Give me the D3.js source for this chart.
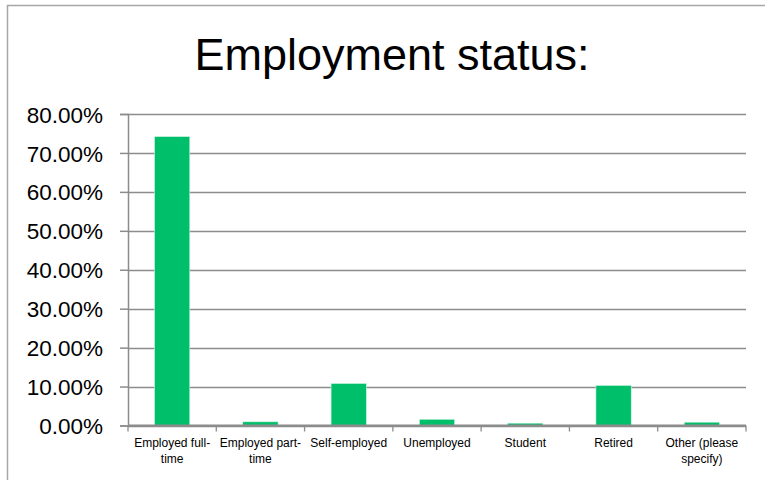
<!DOCTYPE html>
<html>
<head>
  <script src="https://d3js.org/d3.v7.min.js"></script>
</head>
<style>
body { margin: 0; background: #fff; }
text { font-family: "Liberation Sans", Arial, sans-serif; fill: #000; }
</style>
<body>
  <svg id="svg_chart"></svg>
</body>
<script>
  // data
  var categories = ["Employed full-time", "Employed part-time", "Self-employed",
                    "Unemployed", "Student", "Retired", "Other (please specify)"];
  var shares = [0.742, 0.0095, 0.108, 0.016, 0.006, 0.103, 0.0085];
  var yTicks = [0, 0.1, 0.2, 0.3, 0.4, 0.5, 0.6, 0.7, 0.8];
  var title = "Employment status:";

  var w = 765;
  var h = 480;
  var margin = {top: 114, right: 19, bottom: 54, left: 128};

  var svg = d3.select("svg#svg_chart")
    .attr("width", w)
    .attr("height", h);

  // outer chart frame (only top and left edges visible)
  svg.append("path")
    .attr("d", "M7.5," + h + "V5.5H" + w)
    .attr("fill", "none")
    .attr("stroke", "#a6a6a6")
    .attr("stroke-width", 1.5);

  svg.append("text")
    .attr("x", 392)
    .attr("y", 70)
    .attr("text-anchor", "middle")
    .style("font-size", "45px")
    .text(title);

  var x = d3.scaleBand()
    .domain(categories)
    .range([margin.left, w - margin.right])
    .paddingInner(0.6)
    .paddingOuter(0.3);

  var y = d3.scaleLinear()
    .domain([0, 0.8])
    .range([h - margin.bottom - 0.5, margin.top]);

  var g = svg.append("g");

  // gridlines
  g.selectAll("line.grid")
    .data(yTicks)
    .enter().append("line")
    .attr("class", "grid")
    .attr("x1", margin.left)
    .attr("x2", w - margin.right)
    .attr("y1", function(d) { return Math.round(y(d)) + 0.5; })
    .attr("y2", function(d) { return Math.round(y(d)) + 0.5; })
    .attr("stroke", "#8c8c8c")
    .attr("stroke-width", 1.3);

  // bars
  g.selectAll("rect.bar")
    .data(shares)
    .enter().append("rect")
    .attr("class", "bar")
    .attr("x", function(d, i) { return x(categories[i]); })
    .attr("width", x.bandwidth())
    .attr("y", function(d) { return y(d); })
    .attr("height", function(d) { return y(0) - y(d); })
    .attr("fill", "#00bf6b")
    .attr("stroke", "#d8f5e6")
    .attr("stroke-width", 0.6);

  // y axis
  var yAxis = d3.axisLeft(y)
    .tickValues(yTicks)
    .tickFormat(d3.format(".2%"))
    .tickSize(8)
    .tickPadding(17);

  var ya = svg.append("g")
    .attr("transform", "translate(" + margin.left + ",0)")
    .call(yAxis);
  ya.selectAll("path, line").attr("stroke", "#8c8c8c").attr("stroke-width", 1.5);
  ya.selectAll("text").style("font-size", "22.5px").attr("dy", "0.36em");

  // x axis with tick marks on band edges
  var edges = categories.map(function(c) { return x(c) - x.step() * x.paddingInner() / 2; });
  edges.push(w - margin.right);

  var xa = svg.append("g");
  xa.append("line")
    .attr("x1", margin.left).attr("x2", w - margin.right)
    .attr("y1", y(0)).attr("y2", y(0))
    .attr("stroke", "#8c8c8c").attr("stroke-width", 1.8);
  xa.selectAll("line.tick")
    .data(edges)
    .enter().append("line")
    .attr("class", "tick")
    .attr("x1", function(d) { return d; }).attr("x2", function(d) { return d; })
    .attr("y1", y(0)).attr("y2", y(0) + 6)
    .attr("stroke", "#8c8c8c").attr("stroke-width", 1.3);

  var labels = xa.selectAll("text.cat")
    .data(categories)
    .enter().append("text")
    .attr("class", "cat")
    .attr("x", function(d) { return x(d) + x.bandwidth() / 2; })
    .attr("y", 447)
    .attr("text-anchor", "middle")
    .style("font-size", "12px");

  // wrap labels into the band width (break after hyphens or at spaces)
  labels.each(function(d) {
    var el = d3.select(this);
    var cx = +el.attr("x");
    var words = d.match(/[^\s-]+-?/g);
    var lines = [], cur = "";
    words.forEach(function(wd, i) {
      var sep = (cur === "" || cur.slice(-1) === "-") ? "" : " ";
      var test = cur + sep + wd;
      el.text(test);
      if (cur !== "" && this.getComputedTextLength() > x.step() - 4) {
        lines.push(cur);
        cur = wd;
      } else {
        cur = test;
      }
    }, this);
    lines.push(cur);
    el.text(null);
    lines.forEach(function(l, i) {
      el.append("tspan").attr("x", cx).attr("dy", i === 0 ? 0 : 16).text(l);
    });
  });
</script>
</html>
